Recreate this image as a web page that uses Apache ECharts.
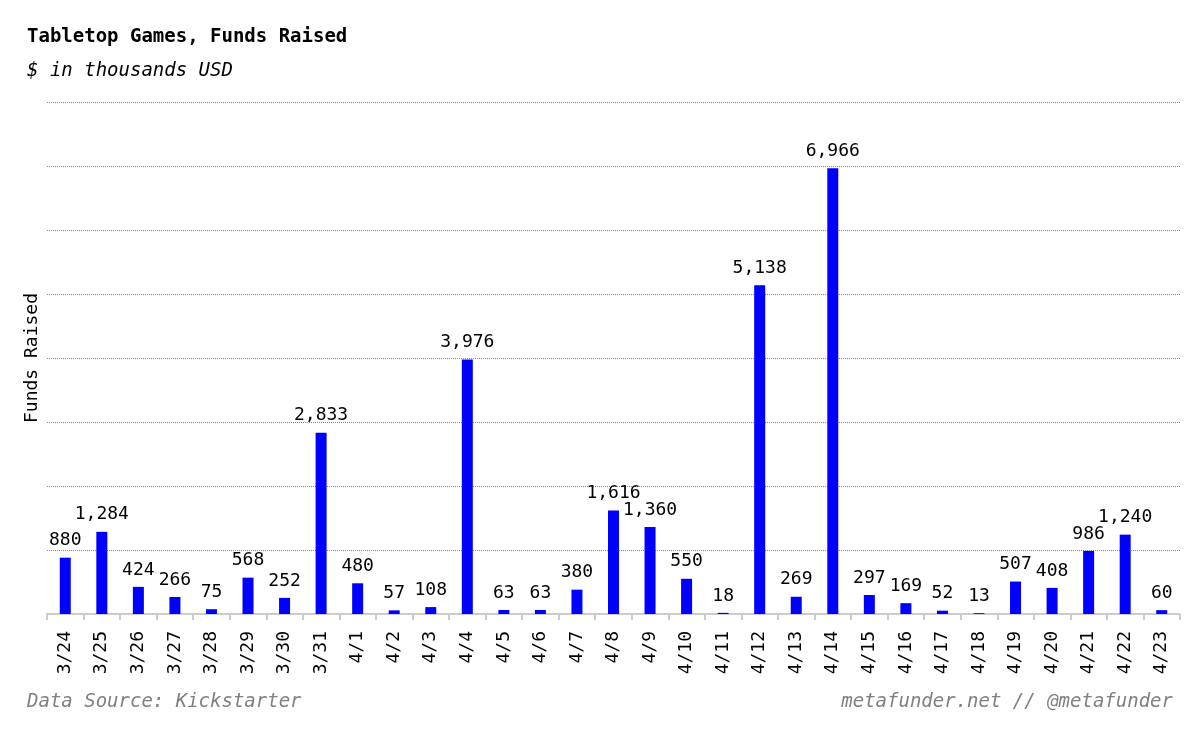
<!DOCTYPE html>
<html>
<head>
<meta charset="utf-8">
<title>Tabletop Games, Funds Raised</title>
<script src="https://cdn.jsdelivr.net/npm/echarts@6/dist/echarts.min.js"></script>
<style>
  html, body { margin: 0; padding: 0; background: #fff; }
  #chart { width: 1200px; height: 733px; }
</style>
</head>
<body>
<div id="chart"></div>
<script>
  // 日期 + 每日金额（千美元）
  const days = [
    '3/24', '3/25', '3/26', '3/27', '3/28', '3/29', '3/30', '3/31',
    '4/1', '4/2', '4/3', '4/4', '4/5', '4/6', '4/7', '4/8', '4/9', '4/10',
    '4/11', '4/12', '4/13', '4/14', '4/15', '4/16', '4/17', '4/18', '4/19',
    '4/20', '4/21', '4/22', '4/23'
  ];
  const funds = [
    880, 1284, 424, 266, 75, 568, 252, 2833,
    480, 57, 108, 3976, 63, 63, 380, 1616, 1360, 550,
    18, 5138, 269, 6966, 297, 169, 52, 13, 507,
    408, 986, 1240, 60
  ];

  const mono = '"DejaVu Sans Mono", monospace';
  const chart = echarts.init(document.getElementById('chart'));

  const option = {
    animation: false,
    title: [
      {
        text: 'Tabletop Games, Funds Raised',
        left: 22,
        top: 23,
        textStyle: { fontFamily: mono, fontSize: 19, fontWeight: 'bold', color: '#000' }
      },
      {
        text: '$ in thousands USD',
        left: 22,
        top: 57,
        textStyle: { fontFamily: mono, fontSize: 19, fontStyle: 'italic', fontWeight: 'normal', color: '#000' }
      },
      {
        text: 'Data Source: Kickstarter',
        left: 22,
        top: 688,
        textStyle: { fontFamily: mono, fontSize: 19, fontStyle: 'italic', fontWeight: 'normal', color: '#808080' }
      },
      {
        text: 'metafunder.net // @metafunder',
        right: 22,
        top: 688,
        textStyle: { fontFamily: mono, fontSize: 19, fontStyle: 'italic', fontWeight: 'normal', color: '#808080' }
      }
    ],
    grid: {
      left: 47,
      right: 20,
      top: 102,
      bottom: 119
    },
    xAxis: {
      type: 'category',
      data: days,
      axisLine: { lineStyle: { color: '#ccc', width: 2 } },
      axisTick: { show: true, length: 6, lineStyle: { color: '#ccc', width: 2 } },
      axisLabel: {
        interval: 0,
        rotate: 90,
        margin: 17,
        fontFamily: mono,
        fontSize: 18,
        color: '#000'
      }
    },
    yAxis: {
      type: 'value',
      min: 0,
      max: 8000,
      interval: 1000,
      name: 'Funds Raised',
      nameLocation: 'middle',
      nameGap: 6,
      nameTextStyle: { fontFamily: mono, fontSize: 18, color: '#000' },
      axisLine: { show: false },
      axisTick: { show: false },
      axisLabel: { show: false },
      splitLine: { lineStyle: { color: '#888', type: 'dotted', width: 1 } }
    },
    series: [
      {
        type: 'bar',
        data: funds,
        barWidth: 11,
        itemStyle: { color: '#0000ff' },
        label: {
          show: true,
          position: 'top',
          distance: 8,
          fontFamily: mono,
          fontSize: 18,
          color: '#000',
          formatter: (p) => p.value.toLocaleString('en-US')
        }
      }
    ]
  };
  chart.setOption(option);
</script>
</body>
</html>
